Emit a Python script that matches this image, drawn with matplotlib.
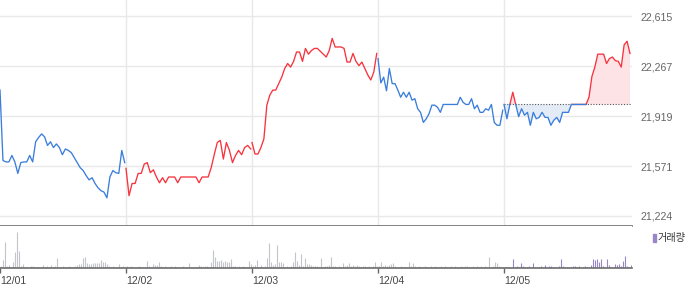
import numpy as np
import matplotlib
matplotlib.use("Agg")
import matplotlib.pyplot as plt
from matplotlib.patches import Rectangle

plt.rcParams['font.family'] = ['Liberation Sans', 'Noto Sans CJK KR', 'DejaVu Sans']

dates = ['12/01', '12/02', '12/03', '12/04', '12/05']
price_ticks = [21224, 21571, 21919, 22267, 22615]
prev_close = 22000

# intraday prices per day
day1 = [22100, 21610, 21600, 21600, 21645, 21600, 21520, 21595, 21600, 21600, 21645, 21600, 21740, 21770,
        21795, 21775, 21715, 21740, 21700, 21725, 21700, 21650, 21690, 21680, 21665, 21630, 21595, 21560,
        21540, 21505, 21475, 21490, 21450, 21420, 21400, 21390, 21350, 21495, 21540, 21525, 21520, 21680, 21595]
day2 = [21555, 21365, 21450, 21450, 21520, 21520, 21585, 21595, 21525, 21545, 21495, 21455, 21490, 21455,
        21495, 21495, 21495, 21455, 21495, 21495, 21495, 21495, 21495, 21495, 21455, 21495, 21495, 21495,
        21560, 21650, 21735, 21750, 21620, 21735, 21680, 21595, 21645, 21680, 21650, 21700, 21715, 21690]
day3 = [21735, 21655, 21655, 21700, 21760, 21995, 22065, 22100, 22100, 22145, 22190, 22250, 22285, 22260,
        22300, 22365, 22365, 22300, 22390, 22350, 22375, 22390, 22390, 22370, 22350, 22330, 22375, 22460,
        22400, 22400, 22400, 22390, 22295, 22295, 22355, 22300, 22270, 22295, 22250, 22205, 22170, 22225, 22355]
day4 = [22320, 22150, 22190, 22095, 22250, 22145, 22145, 22100, 22050, 22085, 22050, 22085, 22030, 22040,
        21970, 21945, 21875, 21900, 21935, 21995, 21995, 21980, 21945, 22000, 22000, 22000, 22000, 22000,
        22000, 22050, 22015, 22000, 22000, 22040, 21970, 21995, 21945, 21945, 21970, 21960, 22000, 21875,
        21855, 21855, 21960]
day5 = [22000, 21900, 22000, 22085, 22000, 21915, 21970, 21925, 21945, 21855, 21945, 21900, 21910, 21945,
        21910, 21910, 21855, 21890, 21910, 21875, 21945, 21945, 21945, 22000, 22000, 22000, 22000, 22000,
        22000, 22050, 22195, 22260, 22350, 22350, 22350, 22285, 22320, 22330, 22305, 22300, 22260, 22415,
        22440, 22355]

vol1 = [2, 8, 26, 2, 3, 1, 6, 16, 36, 17, 2, 4, 1, 1, 1, 2, 2, 1, 1, 1, 1, 3, 1, 2, 1, 3, 1, 2, 10, 1,
        1, 2, 1, 1, 2, 1, 1, 2, 3, 4, 4, 10, 11, 5, 4, 4, 5, 5, 5, 5, 8, 6, 6, 4, 2, 1, 2, 1, 1, 4, 1, 2, 1]
vol2 = [2, 1, 2, 1, 0, 1, 2, 1, 1, 1, 7, 2, 1, 4, 3, 3, 6, 2, 1, 2, 1, 1, 2, 1, 2, 1, 1, 1, 2, 1,
        1, 5, 1, 0, 1, 1, 3, 2, 1, 2, 2, 1, 6, 18, 11, 7, 7, 8, 6, 7, 6, 6, 9, 2, 2, 1, 2, 1, 2, 1, 1, 7, 4]
vol3 = [2, 3, 8, 1, 3, 1, 2, 10, 25, 6, 3, 4, 23, 6, 6, 5, 1, 2, 1, 2, 6, 16, 7, 3, 14, 2, 10, 4, 4, 3,
        2, 2, 2, 1, 10, 1, 2, 2, 3, 11, 2, 2, 1, 2, 1, 5, 2, 3, 5, 2, 3, 2, 3, 2, 1, 2, 2, 1, 2, 1, 2, 6, 2]
vol4 = [2, 6, 2, 3, 2, 3, 4, 5, 2, 1, 1, 2, 1, 1, 1, 6, 2, 5, 2, 1, 2, 1, 1, 2, 1, 1, 2, 1, 2, 1,
        1, 2, 1, 2, 1, 1, 2, 1, 2, 1, 1, 2, 1, 2, 2, 1, 1, 2, 1, 2, 1, 2, 1, 2, 1, 11, 1, 2, 6, 5, 2, 1, 1]
vol5 = [1, 1, 1, 0, 9, 1, 2, 1, 5, 2, 1, 1, 2, 0, 5, 1, 1, 1, 2, 1, 3, 0, 2, 2, 1, 1, 1, 2, 9, 2,
        1, 1, 1, 1, 2, 2, 1, 2, 0, 1, 2, 1, 1, 3, 9, 8, 9, 6, 9, 2, 1, 9, 3, 1, 1, 4, 3, 4, 2, 7, 12, 2, 1, 3]

prices = [day1, day2, day3, day4]
day_colors = ['blue', 'red', 'red', 'blue']
volumes = [vol1, vol2, vol3, vol4, vol5]

RED = '#f7333d'
BLUE = '#3a7ddc'
FILL_RED = '#fde3e5'
FILL_BLUE = '#e3ebf7'
PURPLE = '#9a85c9'
GREY = '#c3c5ca'

xmax = 632 / 126

fig = plt.figure(figsize=(7, 2.89), dpi=100)
ax = fig.add_axes([0, 1 - 226 / 289, 632 / 700, 226 / 289])
ax_v = fig.add_axes([0, 21 / 289, 632 / 700, 42 / 289])

# price lines, one segment per day
for d, p in enumerate(prices):
    xs = d + np.arange(len(p)) / (len(p) - 1) * 0.99
    ax.plot(xs, p, color=RED if day_colors[d] == 'red' else BLUE, lw=0.95, zorder=3)

# last day: coloured against previous close
x5 = 4 + np.arange(len(day5)) / (len(day5) - 1) * 1.0
y5 = np.array(day5, dtype=float)
xx, yy = [x5[0]], [y5[0]]
for i in range(1, len(x5)):
    a, b = y5[i - 1] - prev_close, y5[i] - prev_close
    if a * b < 0:
        t = a / (a - b)
        xx.append(x5[i - 1] + t * (x5[i] - x5[i - 1]))
        yy.append(prev_close)
    xx.append(x5[i])
    yy.append(y5[i])
xx, yy = np.array(xx), np.array(yy)
ax.fill_between(xx, yy, prev_close, where=yy >= prev_close, color=FILL_RED, lw=0, zorder=1)
ax.fill_between(xx, yy, prev_close, where=yy <= prev_close, color=FILL_BLUE, lw=0, zorder=1)
ax.plot([4, xmax], [prev_close, prev_close], ls=(0, (1, 1.5)), color='#555555', lw=0.8, zorder=2)
ax.plot(xx, np.where(yy >= prev_close, yy, np.nan), color=RED, lw=0.95, zorder=3)
ax.plot(xx, np.where(yy <= prev_close, yy, np.nan), color=BLUE, lw=0.95, zorder=4)

ax.set_xlim(0, xmax)
ax.set_ylim(21154, 22727)
ax.set_xticks([1, 2, 3, 4])
ax.tick_params(axis='x', length=0, labelbottom=False)
ax.yaxis.tick_right()
ax.set_yticks(price_ticks)
ax.set_yticklabels([f"{v:,}" for v in price_ticks])
ax.tick_params(axis='y', length=0, pad=5.8, labelsize=7.7, labelcolor='#666666')
ax.grid(True, color='#e8e8e8', lw=1)
ax.set_axisbelow(True)
for s in ['top', 'left', 'right']:
    ax.spines[s].set_visible(False)
ax.spines['bottom'].set_color('#6d6d6d')
ax.spines['bottom'].set_linewidth(1.2)

# volume panel
for d, v in enumerate(volumes):
    xs = d + (np.arange(len(v)) + 0.5) / 63
    ax_v.vlines(xs, 0, v, color=PURPLE if d == 4 else GREY, lw=0.8)

ax_v.set_xlim(0, xmax)
ax_v.set_ylim(0, 42)
ax_v.set_yticks([])
ax_v.set_xticks(range(5))
ax_v.set_xticklabels(dates, ha='left')
ax_v.tick_params(axis='x', length=3.6, width=1, color='#666666', pad=2,
                 labelsize=7.5, labelcolor='#444444')
for s in ['top', 'left', 'right']:
    ax_v.spines[s].set_visible(False)
ax_v.spines['bottom'].set_color('#6d6d6d')
ax_v.spines['bottom'].set_linewidth(1.2)

# volume legend
fig.patches.append(Rectangle((653 / 700, 1 - 242 / 289), 3 / 700, 8 / 289, color=PURPLE,
                             transform=fig.transFigure, figure=fig))
fig.text(658 / 700, 1 - 238 / 289, '거래량', fontsize=7.3, color='#333333', va='center',
         family=['Noto Sans CJK KR', 'DejaVu Sans'])

fig.savefig('out.png', dpi=100)
